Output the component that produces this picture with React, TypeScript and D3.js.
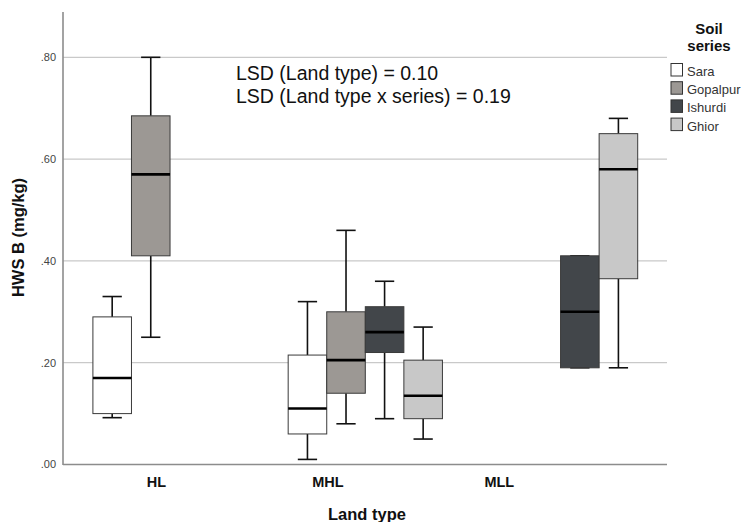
import React from "react";
import * as d3 from "d3";

// Land types and soil series
const landTypes = ["HL", "MHL", "MLL"];
const soilSeries = ["Sara", "Gopalpur", "Ishurdi", "Ghior"];
const seriesColors = ["#ffffff", "#9c9894", "#42464a", "#c8c8c8"];

// Box summaries: [land type, series, min, q1, median, q3, max]
const boxLand = ["HL", "HL", "MHL", "MHL", "MHL", "MHL", "MLL", "MLL"];
const boxSeries = ["Sara", "Gopalpur", "Sara", "Gopalpur", "Ishurdi", "Ghior", "Ishurdi", "Ghior"];
const boxMin = [0.092, 0.25, 0.01, 0.08, 0.09, 0.05, 0.19, 0.19];
const boxQ1 = [0.1, 0.41, 0.06, 0.14, 0.22, 0.09, 0.19, 0.365];
const boxMedian = [0.17, 0.57, 0.11, 0.205, 0.26, 0.135, 0.3, 0.58];
const boxQ3 = [0.29, 0.685, 0.215, 0.3, 0.31, 0.205, 0.41, 0.65];
const boxMax = [0.33, 0.8, 0.32, 0.46, 0.36, 0.27, 0.41, 0.68];

const yTicks = [0, 0.2, 0.4, 0.6, 0.8];
const annotationLines = ["LSD (Land type) = 0.10", "LSD (Land type x series) = 0.19"];

const W = 744;
const H = 522;
const plotLeft = 63;
const plotRight = 667;
const plotTop = 12;
const plotBottom = 464.5;

const font = "'Liberation Sans', Arial, sans-serif";

export default function App() {
  const y = d3.scaleLinear().domain([0, 0.8]).range([plotBottom, 57.3]);
  const x = d3
    .scaleBand<string>()
    .domain(landTypes)
    .range([72.4, 658.2])
    .paddingInner(0.21)
    .paddingOuter(0.105);
  const xs = d3.scaleBand<string>().domain(soilSeries).range([0, x.bandwidth()]);
  const xLabel = d3.scalePoint<string>().domain(landTypes).range([156.5, 499.3]);
  const color = d3.scaleOrdinal<string, string>().domain(soilSeries).range(seriesColors);

  const bw = xs.bandwidth();

  return (
    <svg
      width={W}
      height={H}
      viewBox={`0 0 ${W} ${H}`}
      style={{ position: "absolute", left: 0, top: 0, display: "block", background: "#fff" }}
      fontFamily={font}
    >
      <rect x={0} y={0} width={W} height={H} fill="#fff" />

      {/* grid */}
      {yTicks
        .filter((t) => t > 0)
        .map((t) => (
          <line
            key={`g${t}`}
            x1={plotLeft}
            x2={plotRight}
            y1={y(t)}
            y2={y(t)}
            stroke="#c9c9c9"
            strokeWidth={1.2}
          />
        ))}

      {/* axes */}
      <line x1={plotLeft} x2={plotLeft} y1={plotTop} y2={plotBottom + 0.5} stroke="#8c8c8c" strokeWidth={1.6} />
      <line x1={plotLeft} x2={plotRight} y1={plotBottom} y2={plotBottom} stroke="#8c8c8c" strokeWidth={1.6} />

      {yTicks.map((t) => (
        <text
          key={`t${t}`}
          x={56}
          y={y(t)}
          dy="0.35em"
          textAnchor="end"
          fontSize={11}
          fill="#444"
        >
          {d3.format(".2f")(t).replace(/^0/, "")}
        </text>
      ))}

      {landTypes.map((lt) => (
        <text
          key={`x${lt}`}
          x={xLabel(lt)}
          y={487}
          textAnchor="middle"
          fontSize={14.5}
          fontWeight="bold"
          fill="#111"
        >
          {lt}
        </text>
      ))}

      <text x={367} y={520} textAnchor="middle" fontSize={16.5} fontWeight="bold" fill="#111">
        Land type
      </text>
      <text
        transform={`translate(24,237.5) rotate(-90)`}
        textAnchor="middle"
        fontSize={16.5}
        fontWeight="bold"
        fill="#111"
      >
        HWS B (mg/kg)
      </text>

      {/* boxes */}
      {boxLand.map((lt, i) => {
        const s = boxSeries[i];
        const x0 = (x(lt) ?? 0) + (xs(s) ?? 0);
        const cx = x0 + bw / 2;
        const capHalf = bw / 4;
        return (
          <g key={`b${i}`}>
            <line x1={cx} x2={cx} y1={y(boxMax[i])} y2={y(boxQ3[i])} stroke="#111" strokeWidth={1.6} />
            <line x1={cx} x2={cx} y1={y(boxQ1[i])} y2={y(boxMin[i])} stroke="#111" strokeWidth={1.6} />
            <line x1={cx - capHalf} x2={cx + capHalf} y1={y(boxMax[i])} y2={y(boxMax[i])} stroke="#111" strokeWidth={1.6} />
            <line x1={cx - capHalf} x2={cx + capHalf} y1={y(boxMin[i])} y2={y(boxMin[i])} stroke="#111" strokeWidth={1.6} />
            <rect
              x={x0}
              y={y(boxQ3[i])}
              width={bw}
              height={y(boxQ1[i]) - y(boxQ3[i])}
              fill={color(s)}
              stroke="#3a3a3a"
              strokeWidth={1}
            />
            <line x1={x0} x2={x0 + bw} y1={y(boxMedian[i])} y2={y(boxMedian[i])} stroke="#000" strokeWidth={2.6} />
          </g>
        );
      })}

      {/* annotation */}
      {annotationLines.map((line, i) => (
        <text key={`a${i}`} x={236} y={80 + i * 22.5} fontSize={19.5} fill="#111">
          {line}
        </text>
      ))}

      {/* legend */}
      <text x={709} y={34} textAnchor="middle" fontSize={15} fontWeight="bold" fill="#111">
        Soil
      </text>
      <text x={709} y={51} textAnchor="middle" fontSize={15} fontWeight="bold" fill="#111">
        series
      </text>
      {soilSeries.map((s, i) => (
        <g key={`l${s}`} transform={`translate(671,${63.5 + i * 18.2})`}>
          <rect x={0} y={0} width={11.5} height={12.5} fill={color(s)} stroke="#333" strokeWidth={1} />
          <text x={16} y={12.5} fontSize={13} fill="#333">
            {s}
          </text>
        </g>
      ))}
    </svg>
  );
}
